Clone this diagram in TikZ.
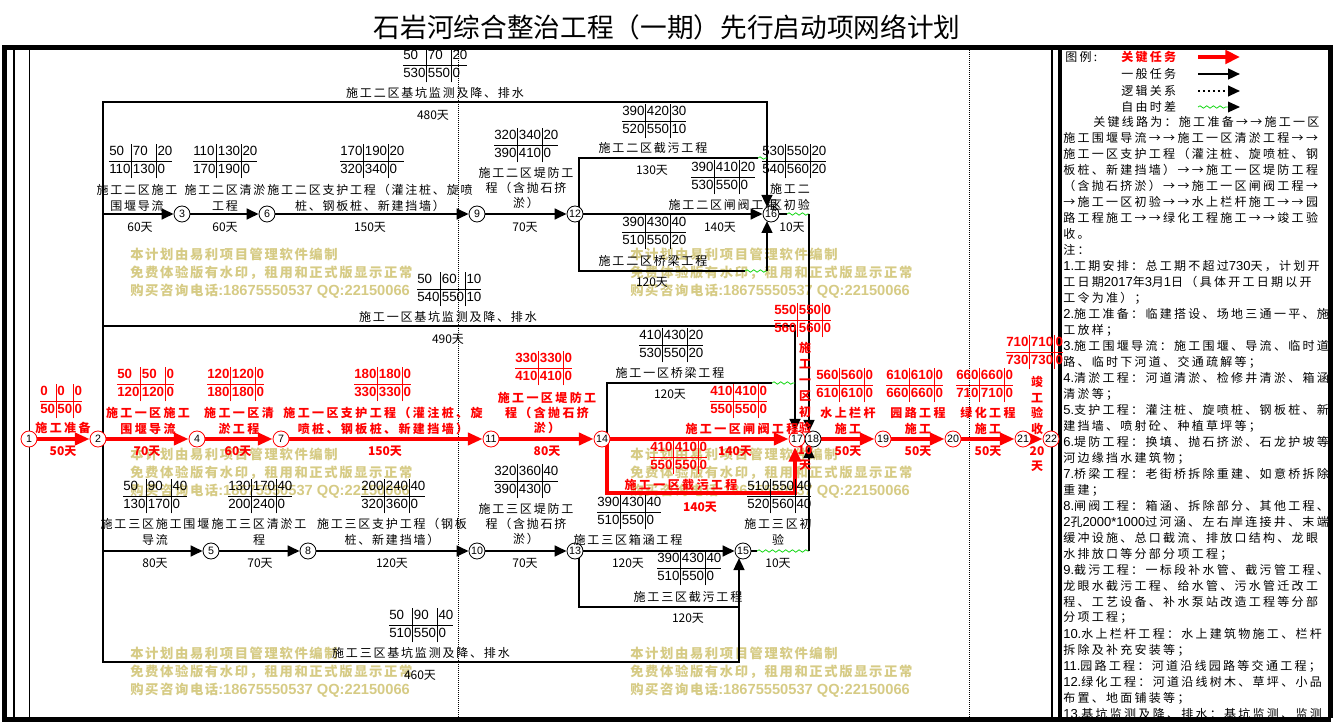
\documentclass[tikz,border=0pt]{standalone}
\usepackage{fontspec}
\setmainfont{Noto Sans CJK SC}
\newfontfamily\lblf[LetterSpace=15]{Noto Sans CJK SC}
\newfontfamily\rlblf[LetterSpace=20]{Noto Sans CJK SC}
\newfontfamily\legf[LetterSpace=19]{Noto Sans CJK SC}
\newfontfamily\wmf[LetterSpace=12]{Noto Sans CJK SC}
\newfontfamily\numf{Liberation Sans}
\usetikzlibrary{arrows.meta,decorations.pathmorphing,calc,backgrounds}
\definecolor{wmc}{RGB}{214,203,133}
\definecolor{fgc}{RGB}{20,215,20}
\setlength\arrayrulewidth{0.7pt}
\newcommand\nettab[6]{{\setlength\tabcolsep{0.9pt}\renewcommand\arraystretch{1.15}\begin{tabular}{@{}l|l|l@{}}#1&#2&#3\\\hline #4&#5&#6\end{tabular}}}
\newcommand\dg[1]{{\numf\fontsize{9.75}{11}\selectfont #1}}
\begin{document}
\begin{tikzpicture}[x=0.75pt,y=-0.75pt,
  ev/.style={circle,draw=black,fill=white,line width=0.6pt,minimum size=12pt,inner sep=0pt,font=\numf\fontsize{8}{9}\selectfont},
  evr/.style={ev,draw=red},
  blk/.style={line width=1.8pt,black,-{Triangle[length=9pt,width=8pt]}},
  blkn/.style={line width=1.8pt,black},
  crit/.style={line width=3pt,red,-{Triangle[length=11pt,width=9pt]}},
  wavy/.style={fgc,line width=0.6pt,decorate,decoration={snake,segment length=5pt,amplitude=0.9pt}},
  lbl/.style={font=\lblf\fontsize{9}{11.5}\selectfont,align=center,inner sep=0pt},
  rlbl/.style={font=\rlblf\bfseries\fontsize{9}{11.5}\selectfont,text=red,align=center,inner sep=0pt},
  durl/.style={font=\fontsize{9}{11}\selectfont,inner sep=0pt},
  rdurl/.style={font=\bfseries\fontsize{9}{11}\selectfont,text=red,inner sep=0pt},
  tb/.style={font=\numf\fontsize{10}{11}\selectfont,inner sep=0pt,anchor=west},
  rtb/.style={font=\numf\bfseries\fontsize{10}{11}\selectfont,text=red,inner sep=0pt,anchor=west},
  wmk/.style={font=\wmf\bfseries\fontsize{10}{13.5}\selectfont,text=wmc,align=left,inner sep=0pt,anchor=west},
  legtxt/.style={font=\legf\fontsize{9}{11}\selectfont,inner sep=0pt,anchor=west}
]
\useasboundingbox (0,0) rectangle (1335,723);

% ---------- background: watermarks and frame ----------
\begin{scope}[on background layer]
\foreach \wx/\wy in {130/273,630/273,130/473,630/473,130/672,630/672}
  \node[wmk] at (\wx,\wy) {本计划由易利项目管理软件编制\\免费体验版有水印，租用和正式版显示正常\\购买咨询电话{\numf\bfseries\fontsize{11}{13.5}\selectfont :18675550537 QQ:22150066}};
\draw[line width=3.75pt] (4.5,47.5) -- (1330.5,47.5) -- (1330.5,719.5) -- (4.5,719.5) -- cycle;
\draw[line width=1.9pt] (14,47.5) -- (14,719.5);
\draw[line width=0.75pt] (29.3,47.5) -- (29.3,719.5);
\draw[line width=0.9pt] (1052,47.5) -- (1052,719.5);
\draw[line width=2.4pt] (1060,47.5) -- (1060,719.5);
\draw[line width=0.6pt,dash pattern=on 0.75pt off 0.75pt] (458,50) -- (458,717);
\draw[line width=0.6pt,dash pattern=on 0.75pt off 0.75pt] (969,50) -- (969,717);
\end{scope}

% ---------- title ----------
\node[font=\fontsize{20}{24}\selectfont,inner sep=0pt] (title) at (667,27) {石岩河综合整治工程（一期）先行启动项网络计划};

% ---------- events ----------
\node[evr] (n1) at (29,439) {1};
\node[evr] (n2) at (98,439) {2};
\node[evr] (n4) at (197,439) {4};
\node[evr] (n7) at (281,439) {7};
\node[evr] (n11) at (491,439) {11};
\node[evr] (n14) at (602,439) {14};
\node[evr] (n17) at (797,439) {17};
\node[ev] (n18) at (813,439) {18};
\node[evr] (n19) at (883,439) {19};
\node[evr] (n20) at (953,439) {20};
\node[evr] (n21) at (1023,439) {21};
\node[evr] (n22) at (1051,439) {22};
\node[ev] (n3) at (182,214) {3};
\node[ev] (n6) at (267,214) {6};
\node[ev] (n9) at (477,214) {9};
\node[ev] (n12) at (575,214) {12};
\node[ev] (n16) at (771,214) {16};
\node[ev] (n5) at (211,551) {5};
\node[ev] (n8) at (308,551) {8};
\node[ev] (n10) at (477,551) {10};
\node[ev] (n13) at (575,551) {13};
\node[ev] (n15) at (743,551) {15};
\coordinate (v2) at (103,439);

% ---------- connectors ----------
\begin{scope}[on background layer]
% zone 2
\draw[blk] (v2) |- (767,102) -- ($(n16)+(-4,-7)$);
\draw[blk] (v2) |- (n3);
\draw[blk] (n3) -- (n6);
\draw[blk] (n6) -- (n9);
\draw[blk] (n9) -- (n12);
\draw[blk] (n12) -- (n16);
\draw[blkn] ($(n12)+(4,0)$) |- (758,158);
\draw[wavy] (758,158) -- (767,158);
\draw[blkn] ($(n12)+(4,0)$) |- (745,271);
\draw[wavy] (745,271) -- (767,271);
\draw[blk] (767,271) -- ($(n16)+(-4,7)$);
\draw[blkn] (n16) -- (787,214);
\draw[wavy] (787,214) -- (809,214);
\draw[blk] (809,214) -- ($(n18)+(-4,-7)$);
% zone 1
\draw[blk] (v2) |- (795,326) -- ($(n17)+(-2,-8)$);
\draw[blkn] ($(n14)+(5,0)$) |- (772,383);
\draw[wavy] (772,383) -- (795,383);
% zone 3
\draw[blk] (v2) |- (n5);
\draw[blk] (n5) -- (n8);
\draw[blk] (n8) -- (n10);
\draw[blk] (n10) -- (n13);
\draw[blk] (n13) -- (n15);
\draw[blk] ($(n13)+(4,0)$) |- (739,607) -- ($(n15)+(-4,7)$);
\draw[blkn] (v2) |- (739,662) -- (739,607);
\draw[blkn] (n15) -- (757,551);
\draw[wavy] (757,551) -- (809,551);
\draw[blk] (809,551) -- ($(n18)+(-4,7)$);
% critical
\draw[crit] (n1) -- (n2);
\draw[crit] (n2) -- (n4);
\draw[crit] (n4) -- (n7);
\draw[crit] (n7) -- (n11);
\draw[crit] (n11) -- (n14);
\draw[crit] (n14) -- (n17);
\draw[crit] ($(n14)+(5,0)$) |- (795,493) -- ($(n17)+(-2,8)$);
\draw[crit] (n18) -- (n19);
\draw[crit] (n19) -- (n20);
\draw[crit] (n20) -- (n21);
\draw[crit] (n21) -- (n22);
\end{scope}

% ---------- zone 2 labels ----------
\node[lbl] at (435,93) {施工二区基坑监测及降、排水};
\node[durl] at (433,115) {480天};
\node[tb] at (403,65) {\nettab{50}{70}{20}{530}{550}{0}};

\node[lbl] at (137,198) {施工二区施工\\围堰导流};
\node[durl] at (140,227) {60天};
\node[tb] at (109,161) {\nettab{50}{70}{20}{110}{130}{0}};

\node[lbl] at (225,198) {施工二区清淤\\工程};
\node[durl] at (225,227) {60天};
\node[tb] at (193,161) {\nettab{110}{130}{20}{170}{190}{0}};

\node[lbl] at (370,198) {施工二区支护工程（灌注桩、旋喷\\桩、钢板桩、新建挡墙）};
\node[durl] at (370,227) {150天};
\node[tb] at (340,161) {\nettab{170}{190}{20}{320}{340}{0}};

\node[lbl] at (526,188) {施工二区堤防工\\程（含抛石挤\\淤）};
\node[durl] at (525,227) {70天};
\node[tb] at (494,145) {\nettab{320}{340}{20}{390}{410}{0}};

\node[lbl] at (723,205) {施工二区闸阀工程};
\node[durl] at (720,227) {140天};
\node[tb] at (691,177) {\nettab{390}{410}{20}{530}{550}{0}};

\node[lbl] at (653,148) {施工二区截污工程};
\node[durl] at (652,170) {130天};
\node[tb] at (622,121) {\nettab{390}{420}{30}{520}{550}{10}};

\node[lbl] at (653,261) {施工二区桥梁工程};
\node[durl] at (652,282) {120天};
\node[tb] at (622,232) {\nettab{390}{430}{40}{510}{550}{20}};

\node[lbl] at (790,197) {施工二\\区初验};
\node[durl] at (792,227) {10天};
\node[tb] at (762,161) {\nettab{530}{550}{20}{540}{560}{20}};

% ---------- zone 1 black labels ----------
\node[lbl] at (448,317) {施工一区基坑监测及降、排水};
\node[durl] at (448,339) {490天};
\node[tb] at (417,289) {\nettab{50}{60}{10}{540}{550}{10}};

\node[lbl] at (670,373) {施工一区桥梁工程};
\node[durl] at (670,394) {120天};
\node[tb] at (639,345) {\nettab{410}{430}{20}{530}{550}{20}};

% ---------- zone 3 labels ----------
\node[lbl] at (155,532) {施工三区施工围堰\\导流};
\node[durl] at (155,563) {80天};
\node[tb] at (123,496) {\nettab{50}{90}{40}{130}{170}{0}};

\node[lbl] at (259,532) {施工三区清淤工\\程};
\node[durl] at (260,563) {70天};
\node[tb] at (228,496) {\nettab{130}{170}{40}{200}{240}{0}};

\node[lbl] at (392,532) {施工三区支护工程（钢板\\桩、新建挡墙）};
\node[durl] at (392,563) {120天};
\node[tb] at (361,496) {\nettab{200}{240}{40}{320}{360}{0}};

\node[lbl] at (526,524) {施工三区堤防工\\程（含抛石挤\\淤）};
\node[durl] at (525,563) {70天};
\node[tb] at (494,481) {\nettab{320}{360}{40}{390}{430}{0}};

\node[lbl] at (628,540) {施工三区箱涵工程};
\node[durl] at (628,563) {120天};
\node[tb] at (597,512) {\nettab{390}{430}{40}{510}{550}{0}};

\node[lbl] at (688,597) {施工三区截污工程};
\node[durl] at (688,618) {120天};
\node[tb] at (657,568) {\nettab{390}{430}{40}{510}{550}{0}};

\node[lbl] at (421,653) {施工三区基坑监测及降、排水};
\node[durl] at (420,675) {460天};
\node[tb] at (389,625) {\nettab{50}{90}{40}{510}{550}{0}};

\node[lbl] at (778,532) {施工三区初\\验};
\node[durl] at (778,563) {10天};
\node[tb] at (747,496) {\nettab{510}{550}{40}{520}{560}{40}};

% ---------- critical labels ----------
\node[rlbl] at (63,428) {施工准备};
\node[rdurl] at (63,451) {50天};
\node[rtb] at (40,401) {\nettab{0}{0}{0}{50}{50}{0}};

\node[rlbl] at (148,421) {施工一区施工\\围堰导流};
\node[rdurl] at (147,451) {70天};
\node[rtb] at (117,384) {\nettab{50}{50}{0}{120}{120}{0}};

\node[rlbl] at (239,421) {施工一区清\\淤工程};
\node[rdurl] at (238,451) {60天};
\node[rtb] at (207,384) {\nettab{120}{120}{0}{180}{180}{0}};

\node[rlbl] at (383,421) {施工一区支护工程（灌注桩、旋\\喷桩、钢板桩、新建挡墙）};
\node[rdurl] at (385,451) {150天};
\node[rtb] at (354,384) {\nettab{180}{180}{0}{330}{330}{0}};

\node[rlbl] at (547,413) {施工一区堤防工\\程（含抛石挤\\淤）};
\node[rdurl] at (547,451) {80天};
\node[rtb] at (515,368) {\nettab{330}{330}{0}{410}{410}{0}};

\node[rlbl] at (742,429) {施工一区闸阀工程};
\node[rdurl] at (735,451) {140天};
\node[rtb] at (710,401) {\nettab{410}{410}{0}{550}{550}{0}};

\node[rlbl] at (681,485) {施工一区截污工程};
\node[rdurl] at (700,507) {140天};
\node[rtb] at (650,457) {\nettab{410}{410}{0}{550}{550}{0}};

\node[rlbl,font=\rlblf\bfseries\fontsize{9}{12}\selectfont] at (805,388) {施\\工\\一\\区\\初\\验};
\node[rdurl,align=center,font=\bfseries\fontsize{9}{11.25}\selectfont] at (805,458.5) {10\\天};
\node[rtb] at (774,320) {\nettab{550}{550}{0}{560}{560}{0}};

\node[rlbl] at (848,421) {水上栏杆\\施工};
\node[rdurl] at (848,451) {50天};
\node[rtb] at (816,385) {\nettab{560}{560}{0}{610}{610}{0}};

\node[rlbl] at (918,421) {园路工程\\施工};
\node[rdurl] at (918,451) {50天};
\node[rtb] at (886,385) {\nettab{610}{610}{0}{660}{660}{0}};

\node[rlbl] at (988,421) {绿化工程\\施工};
\node[rdurl] at (988,451) {50天};
\node[rtb] at (956,385) {\nettab{660}{660}{0}{710}{710}{0}};

\node[rlbl,font=\rlblf\bfseries\fontsize{9}{11.75}\selectfont] at (1037,405.5) {竣\\工\\验\\收};
\node[rdurl,align=center,font=\bfseries\fontsize{9}{11.75}\selectfont] at (1037,459) {20\\天};
\node[rtb] at (1006,352) {\nettab{710}{710}{0}{730}{730}{0}};

% ---------- legend ----------
\node[legtxt] (lg0) at (1065,57) {图例:};
\node[legtxt,font=\legf\bfseries\fontsize{9}{11}\selectfont,text=red] (lg1) at (1121,57) {关键任务};
\node[legtxt] (lg2) at (1121,74) {一般任务};
\node[legtxt] (lg3) at (1121,91) {逻辑关系};
\node[legtxt] (lg4) at (1121,107) {自由时差};
\coordinate (la1) at (1198,57); \coordinate (lb1) at (1240,57);
\coordinate (la2) at (1198,74); \coordinate (lb2) at (1240,74);
\coordinate (la3) at (1198,91); \coordinate (lb3) at (1240,91);
\coordinate (la4) at (1198,107); \coordinate (lm4) at (1228,107); \coordinate (lb4) at (1240,107);
\draw[line width=3.2pt,red,-{Triangle[length=11pt,width=10pt]}] (la1) -- (lb1);
\draw[blk] (la2) -- (lb2);
\draw[line width=1.5pt,dash pattern=on 1.5pt off 2.2pt,-{Triangle[length=9pt,width=8pt]}] (la3) -- (lb3);
\draw[wavy] (la4) -- (lm4);
\draw[line width=1pt,-{Triangle[length=9pt,width=8pt]}] (lm4) -- (lb4);

\node[legtxt] at (1093,122) {关键线路为：施工准备→→施工一区};
\foreach \t [count=\k] in {施工围堰导流→→施工一区清淤工程→→,施工一区支护工程（灌注桩、旋喷桩、钢,板桩、新建挡墙）→→施工一区堤防工程,（含抛石挤淤）→→施工一区闸阀工程→,→施工一区初验→→水上栏杆施工→→园,路工程施工→→绿化工程施工→→竣工验,收。,注：,\dg{1.}工期安排：总工期不超过\dg{730}天，计划开,工日期\dg{2017}年\dg{3}月\dg{1}日（具体开工日期以开,工令为准）；,\dg{2.}施工准备：临建搭设、场地三通一平、施,工放样；,\dg{3.}施工围堰导流：施工围堰、导流、临时道,路、临时下河道、交通疏解等；,\dg{4.}清淤工程：河道清淤、检修井清淤、箱涵,清淤等；,\dg{5.}支护工程：灌注桩、旋喷桩、钢板桩、新,建挡墙、喷射砼、种植草坪等；,\dg{6.}堤防工程：换填、抛石挤淤、石龙护坡等,河边缘挡水建筑物；,\dg{7.}桥梁工程：老街桥拆除重建、如意桥拆除,重建；,\dg{8.}闸阀工程：箱涵、拆除部分、其他工程、,\dg{2}孔\dg{2000*1000}过河涵、左右岸连接井、末端,缓冲设施、总口截流、排放口结构、龙眼,水排放口等分部分项工程；,\dg{9.}截污工程：一标段补水管、截污管工程、,龙眼水截污工程、给水管、污水管迁改工,程、工艺设备、补水泵站改造工程等分部,分项工程；,\dg{10.}水上栏杆工程：水上建筑物施工、栏杆,拆除及补充安装等；,\dg{11.}园路工程：河道沿线园路等交通工程；,\dg{12.}绿化工程：河道沿线树木、草坪、小品,布置、地面铺装等；,\dg{13.}基坑监测及降、排水：基坑监测、监测}
  \node[legtxt] at (1063,{122+16*\k}) {\t};
% bottom border redrawn over the cut last line
\fill[white] (1058,717.5) rectangle (1335,723);
\draw[line width=3.75pt] (1058,719.5) -- (1330.5,719.5);
\end{tikzpicture}
\end{document}
